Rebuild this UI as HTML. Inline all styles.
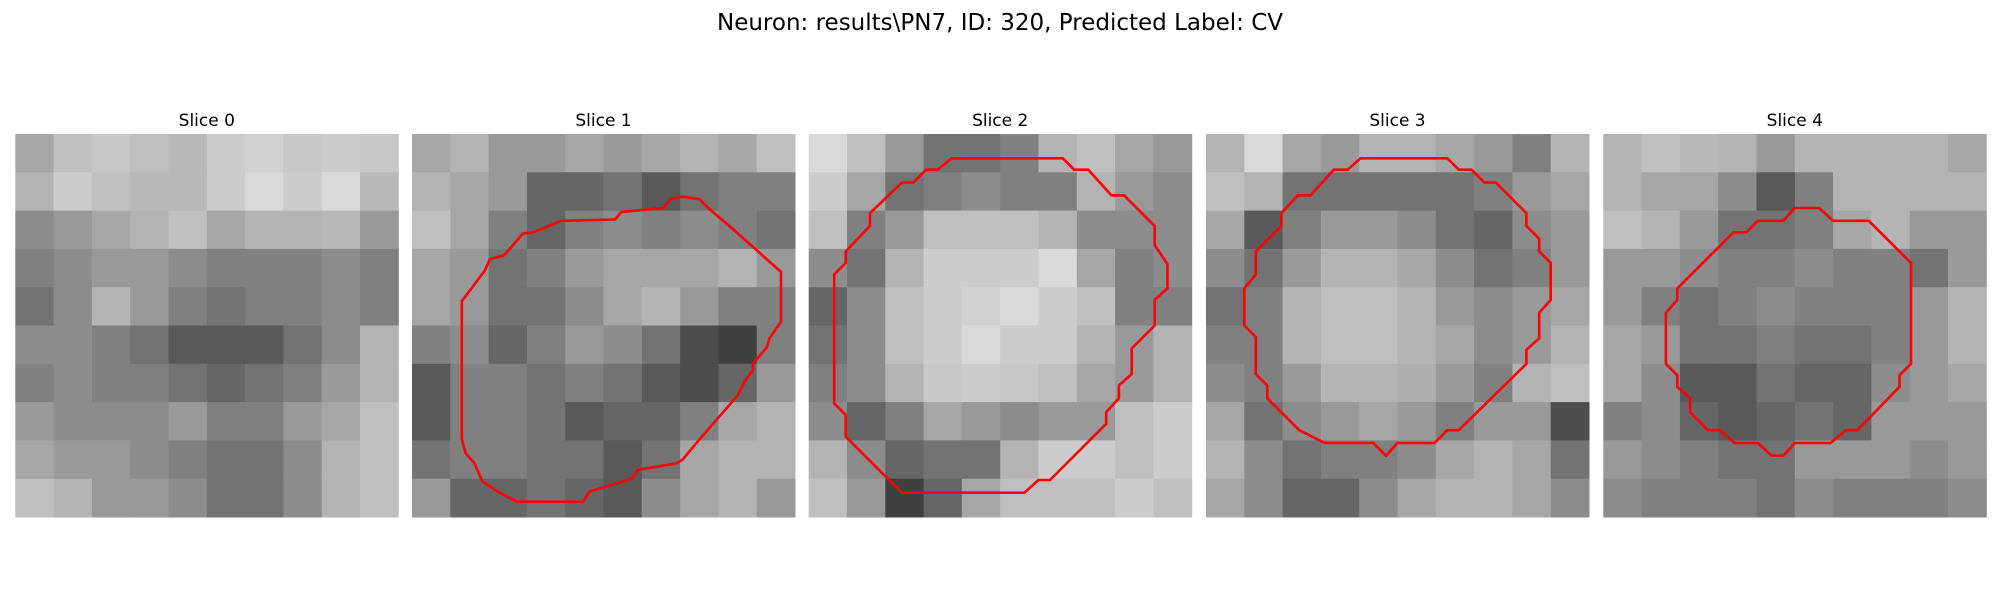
<!DOCTYPE html>
<html><head><meta charset="utf-8">
<style>
html,body{margin:0;padding:0;background:#fff;}
svg{display:block;font-family:"DejaVu Sans","Liberation Sans",sans-serif;}
</style></head>
<body>
<svg id="fig" width="2000" height="600" viewBox="0 0 2000 600" xmlns="http://www.w3.org/2000/svg">
<rect width="2000" height="600" fill="#fff"/>
<text x="1000" y="30" font-size="23" text-anchor="middle" fill="#000">Neuron: results\PN7, ID: 320, Predicted Label: CV</text>
</svg>
<script>
const sliceTitles = ["Slice 0","Slice 1","Slice 2","Slice 3","Slice 4"];
const slice0 = [
[0.65,0.75,0.78,0.75,0.72,0.8,0.82,0.78,0.8,0.78],
[0.7,0.8,0.75,0.72,0.72,0.8,0.85,0.8,0.85,0.72],
[0.55,0.6,0.65,0.7,0.75,0.65,0.7,0.7,0.72,0.6],
[0.5,0.55,0.6,0.6,0.55,0.5,0.5,0.5,0.55,0.5],
[0.45,0.55,0.7,0.6,0.5,0.45,0.5,0.5,0.55,0.5],
[0.55,0.55,0.5,0.45,0.35,0.35,0.35,0.45,0.55,0.7],
[0.5,0.55,0.5,0.5,0.45,0.4,0.45,0.5,0.6,0.7],
[0.6,0.55,0.55,0.55,0.6,0.5,0.5,0.6,0.65,0.75],
[0.65,0.6,0.6,0.55,0.5,0.45,0.45,0.55,0.7,0.75],
[0.75,0.7,0.6,0.6,0.55,0.45,0.45,0.55,0.7,0.75]];
const slice1 = [
[0.65,0.7,0.6,0.6,0.65,0.6,0.65,0.7,0.65,0.75],
[0.7,0.65,0.6,0.4,0.4,0.45,0.35,0.45,0.5,0.5],
[0.75,0.65,0.5,0.4,0.5,0.55,0.5,0.55,0.5,0.45],
[0.65,0.6,0.45,0.5,0.6,0.65,0.65,0.65,0.7,0.6],
[0.65,0.6,0.45,0.45,0.55,0.65,0.7,0.6,0.5,0.5],
[0.5,0.55,0.4,0.5,0.6,0.55,0.45,0.3,0.25,0.5],
[0.35,0.5,0.5,0.45,0.5,0.45,0.35,0.3,0.4,0.6],
[0.35,0.5,0.5,0.45,0.35,0.4,0.4,0.5,0.65,0.7],
[0.45,0.5,0.5,0.45,0.45,0.35,0.45,0.65,0.7,0.7],
[0.6,0.4,0.4,0.45,0.4,0.35,0.55,0.65,0.7,0.6]];
const slice2 = [
[0.85,0.75,0.6,0.45,0.45,0.5,0.7,0.75,0.65,0.6],
[0.8,0.65,0.45,0.5,0.55,0.5,0.5,0.7,0.6,0.55],
[0.75,0.5,0.6,0.75,0.75,0.75,0.7,0.55,0.55,0.55],
[0.55,0.45,0.7,0.8,0.8,0.8,0.85,0.65,0.5,0.55],
[0.4,0.55,0.75,0.8,0.82,0.85,0.8,0.75,0.5,0.5],
[0.45,0.55,0.75,0.8,0.85,0.8,0.8,0.7,0.6,0.7],
[0.5,0.55,0.7,0.78,0.8,0.78,0.75,0.65,0.6,0.7],
[0.55,0.4,0.5,0.65,0.6,0.55,0.6,0.6,0.75,0.8],
[0.7,0.55,0.4,0.45,0.45,0.7,0.8,0.8,0.75,0.8],
[0.75,0.6,0.25,0.4,0.65,0.75,0.75,0.75,0.8,0.75]];
const slice3 = [
[0.7,0.85,0.65,0.6,0.7,0.7,0.65,0.6,0.5,0.7],
[0.75,0.7,0.45,0.45,0.45,0.45,0.45,0.5,0.6,0.65],
[0.65,0.35,0.5,0.6,0.6,0.55,0.45,0.4,0.55,0.6],
[0.55,0.45,0.6,0.7,0.7,0.65,0.55,0.45,0.5,0.6],
[0.45,0.5,0.7,0.75,0.75,0.7,0.6,0.55,0.6,0.65],
[0.5,0.5,0.7,0.75,0.75,0.7,0.65,0.55,0.6,0.7],
[0.55,0.5,0.6,0.7,0.7,0.68,0.6,0.5,0.7,0.75],
[0.65,0.45,0.55,0.6,0.65,0.6,0.5,0.6,0.6,0.3],
[0.7,0.55,0.45,0.5,0.5,0.55,0.65,0.7,0.65,0.45],
[0.65,0.55,0.4,0.4,0.55,0.65,0.7,0.7,0.65,0.55]];
const slice4 = [
[0.7,0.75,0.72,0.7,0.6,0.7,0.7,0.7,0.7,0.65],
[0.7,0.65,0.65,0.55,0.35,0.5,0.7,0.7,0.7,0.7],
[0.75,0.7,0.6,0.45,0.45,0.5,0.65,0.7,0.6,0.6],
[0.6,0.6,0.55,0.5,0.5,0.55,0.5,0.5,0.45,0.6],
[0.6,0.5,0.45,0.5,0.55,0.5,0.5,0.5,0.6,0.7],
[0.65,0.6,0.45,0.45,0.5,0.45,0.45,0.5,0.6,0.7],
[0.65,0.55,0.35,0.35,0.45,0.4,0.4,0.55,0.6,0.65],
[0.5,0.55,0.4,0.35,0.4,0.45,0.4,0.6,0.6,0.6],
[0.6,0.55,0.5,0.45,0.45,0.6,0.6,0.6,0.55,0.6],
[0.55,0.5,0.5,0.5,0.45,0.55,0.5,0.5,0.5,0.55]];
const contour1 = [[3.9,13.1],[5.7,10.7],[6.1,9.8],[7.2,9.5],[8.7,7.8],[9.5,7.7],[11.7,6.8],[15.9,6.7],[16.4,6.1],[19.7,5.8],[20.2,5.1],[21.2,4.9],[22.5,5.1],[23.2,5.8],[25.2,7.5],[28.9,10.8],[28.9,14.7],[28,16],[27.8,16.7],[26.7,18],[26.7,18.5],[26.1,19.3],[25.5,20.5],[22.2,24.3],[21.2,25.5],[20.7,25.8],[17.7,26.3],[17.2,27],[13.9,28],[13.4,28.8],[8.2,28.8],[6.7,28],[5.5,27.2],[4.9,25.8],[4.2,25],[3.9,23.9]];
const contour2 = [[11.2,1.9],[19.9,1.9],[20.8,2.8],[21.9,2.8],[23.7,4.8],[24.7,4.8],[27.1,7.2],[27.1,8.7],[28.1,10.2],[28.1,12.1],[27.1,13],[27.1,15],[25.3,16.8],[25.3,18.8],[24.3,19.7],[24.3,20.7],[23.3,21.8],[23.3,22.7],[18.9,27.1],[18,27.1],[16.9,28.1],[7.3,28.1],[2.9,23.7],[2.9,22],[2,21.1],[2,11],[2.9,10.1],[2.9,9.2],[4.8,7.2],[4.8,6.2],[7.3,3.8],[8.2,3.8],[9.2,2.8],[10.1,2.8]];
const contour3 = [[12.1,1.9],[18.9,1.9],[19.8,2.8],[20.8,2.8],[21.8,3.8],[22.7,3.8],[25.1,6.2],[25.1,7.2],[26.1,8.2],[26.1,9.2],[27,10.1],[27,13],[26.1,14],[26.1,16],[25.1,16.9],[25.1,18],[19.8,23.2],[18.9,23.2],[17.9,24.2],[15,24.2],[14.1,25.2],[13.1,24.2],[9.3,24.2],[7.3,23.2],[4.8,20.7],[4.8,19.7],[3.9,18.8],[3.9,15.9],[3,15],[3,12.1],[3.9,11],[3.9,9.2],[5.9,7.2],[5.9,6.2],[7.2,4.8],[8.2,4.8],[10,2.8],[11.1,2.8]];
const contour4 = [[15,5.8],[16.9,5.8],[18,6.8],[20.8,6.8],[24.1,10.1],[24.1,18],[23.2,18.9],[23.2,19.8],[19.9,23.2],[19,23.2],[17.8,24.2],[15,24.2],[14.1,25.2],[13.2,25.2],[12.1,24.2],[10.3,24.2],[9.1,23.2],[8.2,23.2],[6.8,21.8],[6.8,20.7],[5.8,19.8],[5.8,18.9],[4.9,18],[4.9,14],[5.8,13],[5.8,12.1],[10.2,7.7],[11.2,7.7],[12.1,6.8],[14.1,6.8]];
const slices = [slice0,slice1,slice2,slice3,slice4];
const contours = [null,contour1,contour2,contour3,contour4];

const NS = "http://www.w3.org/2000/svg";
const svg = document.getElementById('fig');
const panelLefts = [15.3,412,808.7,1206,1603.3];
const panelTop = 134, panelSize = 383, gridUnits = 30;
function xScale(p,g){return panelLefts[p] + g/gridUnits*panelSize;}
function yScale(g){return panelTop + g/gridUnits*panelSize;}

slices.forEach((grid,p)=>{
  const g = document.createElementNS(NS,'g');
  
  
  svg.appendChild(g);
  const n = grid.length, cell = gridUnits/n;
  grid.forEach((row,r)=>row.forEach((v,c)=>{
    const rect = document.createElementNS(NS,'rect');
    
    
    const x0 = xScale(p,c*cell), y0 = yScale(r*cell);
    rect.setAttribute('x', x0);
    rect.setAttribute('y', y0);
    rect.setAttribute('width', xScale(p,(c+1)*cell)-x0+0.5);
    rect.setAttribute('height', yScale((r+1)*cell)-y0+0.5);
    const l = Math.round(v*255);
    rect.setAttribute('fill', `rgb(${l},${l},${l})`);
    g.appendChild(rect);
  }));
  const t = document.createElementNS(NS,'text');
  
  
  t.setAttribute('x', xScale(p,15));
  t.setAttribute('y', 126);
  t.setAttribute('font-size', '17');
  t.setAttribute('text-anchor', 'middle');
  t.textContent = sliceTitles[p];
  svg.appendChild(t);
  const ct = contours[p];
  if (ct) {
    const poly = document.createElementNS(NS,'polygon');
    
    
    poly.setAttribute('points', ct.map(q=>xScale(p,q[0]).toFixed(1)+','+yScale(q[1]).toFixed(1)).join(' '));
    poly.setAttribute('fill', 'none');
    poly.setAttribute('stroke', '#ff0000');
    poly.setAttribute('stroke-width', '2.6');
    poly.setAttribute('stroke-linejoin', 'round');
    svg.appendChild(poly);
  }
});
</script>
</body></html>
